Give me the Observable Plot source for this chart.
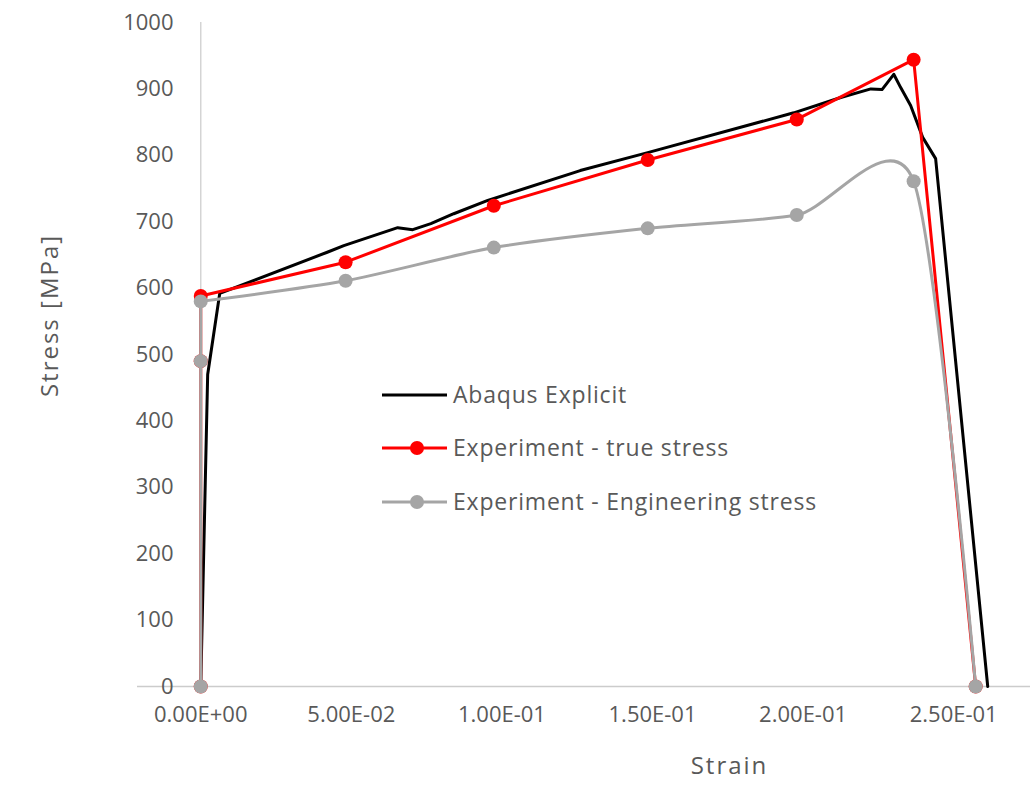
<!DOCTYPE html>
<html>
<head>
<meta charset="utf-8">
<script src="https://cdn.jsdelivr.net/npm/d3@7"></script>
<script src="https://cdn.jsdelivr.net/npm/@observablehq/plot@0.6"></script>
<style>
  html, body { margin: 0; padding: 0; background: #fff; }
  #wrap { position: relative; width: 1035px; height: 787px; font-family: "Open Sans", sans-serif; }
  #legend { position: absolute; left: 0; top: 0; pointer-events: none; }
</style>
</head>
<body>
<div id="wrap"></div>
<script>
// ---- data ----
const strainTicks = [0, 0.05, 0.1, 0.15, 0.2, 0.25];
const strainTickLabels = ["0.00E+00", "5.00E-02", "1.00E-01", "1.50E-01", "2.00E-01", "2.50E-01"];
const stressTicks = [0, 100, 200, 300, 400, 500, 600, 700, 800, 900, 1000];

const seriesNames = ["Abaqus Explicit", "Experiment - true stress", "Experiment - Engineering stress"];
const seriesColors = ["#000000", "#ff0000", "#a5a5a5"];

const abaqusStrain = [0, 0.0023, 0.0063, 0.042, 0.0475, 0.0654, 0.0704, 0.0764, 0.084, 0.0953, 0.126, 0.1484, 0.1969, 0.2125, 0.2225, 0.2262, 0.2301, 0.2324, 0.2357, 0.2397, 0.244, 0.2613];
const abaqusStress = [0, 470, 592, 654, 664, 691, 688, 697, 712, 732, 777, 804, 864, 887, 900, 899, 922, 902, 875, 827, 795, 0];

const trueStrain = [0, 0, 0, 0.0481, 0.0973, 0.1484, 0.1979, 0.2367, 0.2573];
const trueStress = [0, 490, 588, 639, 724, 793, 854, 944, 0];

const engStrain = [0, 0, 0, 0.0481, 0.0973, 0.1484, 0.1979, 0.2367, 0.2573];
const engStress = [0, 490, 580, 611, 661, 690, 710, 761, 0];

// ---- tables ----
const abaqus = abaqusStrain.map((x, i) => ({x, y: abaqusStress[i]}));
const trueS = trueStrain.map((x, i) => ({x, y: trueStress[i]}));
const engS = engStrain.map((x, i) => ({x, y: engStress[i]}));
// elastic (vertical) part drawn straight, the rest smoothed as in the spreadsheet
const engElastic = engS.filter(d => d.x === 0);
const engPlastic = engS.filter((d, i) => d.x > 0 || i === engElastic.length - 1);

const grey = "#595959";

const chart = Plot.plot({
  width: 1035,
  height: 787,
  marginTop: 22,
  marginBottom: 101,
  marginLeft: 137,
  marginRight: 5,
  x: {domain: [-0.021, 0.2755], axis: null},
  y: {domain: [0, 1000], axis: null},
  style: {fontFamily: "Open Sans, sans-serif", background: "#fff", overflow: "visible"},
  marks: [
    Plot.ruleY([0], {stroke: "#cccccc", strokeWidth: 1.5}),
    Plot.ruleX([0], {y1: 0, y2: 1000, stroke: "#d4d4d4", strokeWidth: 1.5}),
    Plot.text(stressTicks, {y: d => d, text: d => String(d), frameAnchor: "left", textAnchor: "end", dx: 36, fontSize: 22, fill: grey}),
    Plot.text(strainTicks, {x: d => d, text: (d, i) => strainTickLabels[i], frameAnchor: "bottom", textAnchor: "middle", dy: 35, fontSize: 22, fill: grey}),
    Plot.line(abaqus, {x: "x", y: "y", stroke: seriesColors[0], strokeWidth: 3}),
    Plot.line(trueS, {x: "x", y: "y", stroke: seriesColors[1], strokeWidth: 3}),
    Plot.dot(trueS, {x: "x", y: "y", r: 7, fill: seriesColors[1], stroke: "none"}),
    Plot.line(engElastic, {x: "x", y: "y", stroke: seriesColors[2], strokeWidth: 3}),
    Plot.line(engPlastic, {x: "x", y: "y", curve: "cardinal", tension: 0.25, stroke: seriesColors[2], strokeWidth: 3}),
    Plot.dot(engS, {x: "x", y: "y", r: 7, fill: seriesColors[2], stroke: "none"}),
    Plot.text(["Stress [MPa]"], {text: d => d, frameAnchor: "top-left", textAnchor: "middle", dx: -97, dy: 293, rotate: -90, fontSize: 24, fill: grey}),
    Plot.text(["Strain"], {text: d => d, frameAnchor: "bottom-left", textAnchor: "middle", dx: 592, dy: 87, fontSize: 24, fill: grey})
  ]
});

d3.select(chart).selectAll("text")
  .filter(function() { return this.textContent === "Stress [MPa]" || this.textContent === "Strain"; })
  .attr("letter-spacing", "2px");

const wrap = document.getElementById("wrap");
wrap.appendChild(chart);

// ---- legend ----
const leg = d3.select(wrap).append("svg")
  .attr("id", "legend")
  .attr("width", 1035).attr("height", 787);
const rowY = [395, 448, 502];
seriesNames.forEach((name, i) => {
  const g = leg.append("g").attr("transform", `translate(382,${rowY[i]})`);
  g.append("line").attr("x1", 0).attr("x2", 65).attr("y1", 0).attr("y2", 0)
    .attr("stroke", seriesColors[i]).attr("stroke-width", 3);
  if (i > 0) g.append("circle").attr("cx", 35).attr("cy", 0).attr("r", 7).attr("fill", seriesColors[i]);
  g.append("text").attr("x", 71).attr("y", 0).attr("dy", "0.35em")
    .attr("font-size", 23).attr("fill", grey).attr("letter-spacing", "0.8px")
    .attr("font-family", "Open Sans, sans-serif")
    .text(name);
});
</script>
</body>
</html>
